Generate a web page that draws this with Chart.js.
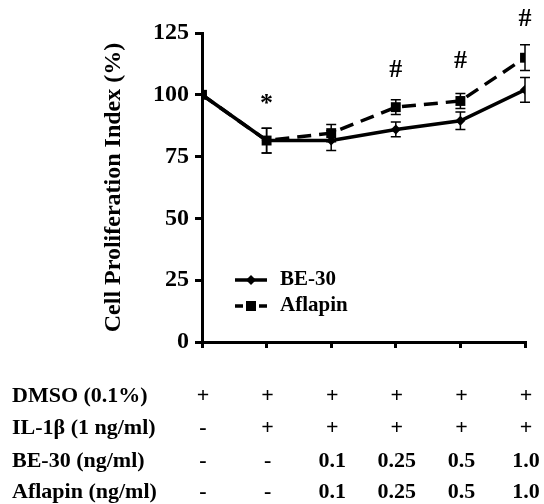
<!DOCTYPE html>
<html>
<head>
<meta charset="utf-8">
<script src="https://cdn.jsdelivr.net/npm/chart.js@4"></script>
<style>
  body { margin: 0; background: #fff; }
  #wrap { width: 544px; height: 504px; }
</style>
</head>
<body>
<div id="wrap"><canvas id="myChart"></canvas></div>
<script>
// Valores
const groups = [0, 1, 2, 3, 4, 5];
const be30Values = [100, 81.5, 81.5, 86, 89.5, 102];
const be30Errors = [0, 5, 4, 3, 3.5, 5];
const aflapinValues = [100, 81.5, 84.5, 95, 97.5, 115];
const aflapinErrors = [0, 5, 3.5, 3, 3, 5.2];
const yTicks = [0, 25, 50, 75, 100, 125];

// Marcas de significancia sobre cada grupo
const markLabels = ["", "*", "", "#", "#", "#"];
const markValues = [null, 96, null, 110, 113.5, 130.5];

// Tabla de tratamientos bajo el eje x
const rowLabels = ["DMSO (0.1%)", "IL-1\u03b2 (1 ng/ml)", "BE-30 (ng/ml)", "Aflapin (ng/ml)"];
const rowDmso = ["+", "+", "+", "+", "+", "+"];
const rowIl1b = ["-", "+", "+", "+", "+", "+"];
const rowBe30 = ["-", "-", "0.1", "0.25", "0.5", "1.0"];
const rowAflapin = ["-", "-", "0.1", "0.25", "0.5", "1.0"];

const serif = '"Liberation Serif", "Times New Roman", serif';

const toPoints = (values) => groups.map((g, i) => ({ x: g, y: values[i] }));

// Barras de error, marcas, leyenda y tabla
const extrasPlugin = {
    id: "extras",
    beforeDatasetsDraw(chart) {
        const { ctx, scales } = chart;
        const x = scales.x;
        const y = scales.y;
        const sets = [[be30Values, be30Errors], [aflapinValues, aflapinErrors]];
        ctx.save();
        ctx.strokeStyle = "#000";
        ctx.lineWidth = 1.5;
        sets.forEach(([vals, errs]) => {
            groups.forEach((g, i) => {
                if (!errs[i]) return;
                const px = x.getPixelForValue(g);
                const top = y.getPixelForValue(vals[i] + errs[i]);
                const bot = y.getPixelForValue(vals[i] - errs[i]);
                ctx.beginPath();
                ctx.moveTo(px, top); ctx.lineTo(px, bot);
                ctx.moveTo(px - 5, top); ctx.lineTo(px + 5, top);
                ctx.moveTo(px - 5, bot); ctx.lineTo(px + 5, bot);
                ctx.stroke();
            });
        });
        ctx.restore();
    },
    afterDraw(chart) {
        const { ctx, scales } = chart;
        const x = scales.x;
        const y = scales.y;
        ctx.save();
        ctx.fillStyle = "#000";
        ctx.textBaseline = "middle";

        // marcas * y #
        ctx.textAlign = "center";
        ctx.font = "bold 26px " + serif;
        groups.forEach((g, i) => {
            if (!markLabels[i]) return;
            ctx.fillText(markLabels[i], x.getPixelForValue(g), y.getPixelForValue(markValues[i]));
        });

        // leyenda dentro del area
        const legendRows = [280, 306];
        chart.data.datasets.forEach((ds, k) => {
            const ly = legendRows[k];
            ctx.strokeStyle = "#000";
            ctx.lineWidth = 3.5;
            ctx.beginPath();
            if (ds.borderDash && ds.borderDash.length) {
                ctx.moveTo(235, ly); ctx.lineTo(243, ly);
                ctx.moveTo(259, ly); ctx.lineTo(267, ly);
            } else {
                ctx.moveTo(235, ly); ctx.lineTo(267, ly);
            }
            ctx.stroke();
            ctx.beginPath();
            if (ds.pointStyle === "rect") {
                ctx.rect(246, ly - 5, 10, 10);
            } else {
                ctx.moveTo(251, ly - 5); ctx.lineTo(256, ly);
                ctx.lineTo(251, ly + 5); ctx.lineTo(246, ly);
                ctx.closePath();
            }
            ctx.fill();
            ctx.textAlign = "left";
            ctx.font = "bold 21px " + serif;
            ctx.fillText(ds.label, 280, ly);
        });

        // tabla de tratamientos
        const rows = [rowDmso, rowIl1b, rowBe30, rowAflapin];
        const rowY = [396, 428, 461, 492];
        ctx.font = "bold 22px " + serif;
        rows.forEach((row, r) => {
            ctx.textAlign = "left";
            ctx.fillText(rowLabels[r], 12, rowY[r]);
            ctx.textAlign = "center";
            row.forEach((cell, i) => {
                ctx.fillText(cell, x.getPixelForValue(groups[i]) + 1, rowY[r]);
            });
        });
        ctx.restore();
    }
};

const config = {
    type: "line",
    data: {
        datasets: [
            {
                label: "BE-30",
                data: toPoints(be30Values),
                borderColor: "#000",
                backgroundColor: "#000",
                borderWidth: 3.5,
                pointStyle: "rectRot",
                pointRadius: 5,
                pointBorderWidth: 0,
                order: 2
            },
            {
                label: "Aflapin",
                data: toPoints(aflapinValues),
                borderColor: "#000",
                backgroundColor: "#000",
                borderWidth: 3.5,
                borderDash: [14, 8],
                pointStyle: "rect",
                pointRadius: 7,
                pointBorderWidth: 0,
                order: 1
            }
        ]
    },
    options: {
        responsive: true,
        maintainAspectRatio: false,
        animation: false,
        layout: { padding: { left: 0, right: 19, top: 33, bottom: 0 } },
        plugins: { legend: { display: false }, tooltip: { enabled: false } },
        scales: {
            x: {
                type: "linear",
                min: groups[0],
                max: groups[groups.length - 1],
                ticks: { stepSize: 1, display: false },
                grid: { drawOnChartArea: false, drawTicks: true, tickLength: 6, lineWidth: 3, color: "#000" },
                border: { color: "#000", width: 3 },
                afterFit: (scale) => { scale.height = 162; }
            },
            y: {
                min: yTicks[0],
                max: yTicks[yTicks.length - 1],
                afterBuildTicks: (scale) => { scale.ticks = yTicks.map((v) => ({ value: v })); },
                ticks: { color: "#000", padding: 6, font: { family: serif, size: 24, weight: "bold" } },
                grid: { drawOnChartArea: false, drawTicks: true, tickLength: 7, lineWidth: 3, color: "#000" },
                border: { color: "#000", width: 3 },
                title: {
                    display: true,
                    text: "Cell Proliferation Index (%)",
                    color: "#000",
                    font: { family: serif, size: 24, weight: "bold" },
                    padding: { top: 99, bottom: 0 }
                },
                afterFit: (scale) => { scale.width = 202; }
            }
        }
    },
    plugins: [extrasPlugin]
};

const myChart = new Chart(document.querySelector("#myChart"), config);
</script>
</body>
</html>
